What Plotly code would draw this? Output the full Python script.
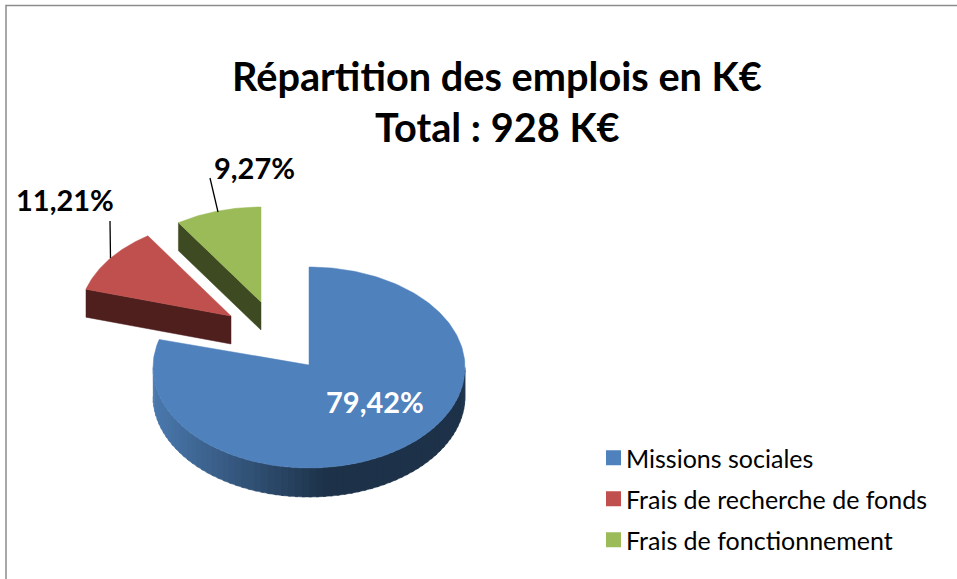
import numpy as np
import plotly.graph_objects as go

categories = ["Missions sociales", "Frais de recherche de fonds", "Frais de fonctionnement"]
shares = [79.42, 11.21, 9.27]
title_lines = ["Répartition des emplois en K€", "Total : 928 K€"]

top_colors = ["#4f81bd", "#c0504d", "#9bbb59"]
side_colors = ["#1d3249", "#4f1f1e", "#3e4a21"]
FONT = "Lato, Carlito, 'Open Sans', sans-serif"

W, H = 957, 579
# pie geometry in the picture's own axis units: apex x, apex y, radius x, radius y, centre offset, wall depth
GEOM = [
    dict(ax=309, ay=365, rx=156, ry=100.5, oy=2.5, depth=29),
    dict(ax=231, ay=316, rx=151, ry=96, oy=0, depth=28),
    dict(ax=261, ay=302, rx=150, ry=95, oy=0, depth=28),
]

fracs = np.array(shares) / np.sum(shares) * 360.0
starts = np.concatenate([[0], np.cumsum(fracs)[:-1]])
ends = np.cumsum(fracs)


def rim(g, t):
    r = np.radians(t)
    return g["ax"] + g["rx"] * np.sin(r), g["ay"] + g["oy"] - g["ry"] * np.cos(r)


def poly(xs, ys, color):
    return go.Scatter(x=list(xs), y=list(ys), mode="lines", fill="toself", fillcolor=color,
                      line=dict(color=color, width=0.5), showlegend=False, hoverinfo="skip")


def hex2rgb(h):
    return np.array([int(h[i:i + 2], 16) for i in (1, 3, 5)], float)


def mix(a, b, f):
    c = hex2rgb(a) * (1 - f) + hex2rgb(b) * f
    return "rgb(%d,%d,%d)" % tuple(c.round())


fig = go.Figure()

# frame of the chart area
fig.add_trace(go.Scatter(x=[6, 6, W], y=[H, 5.5, 5.5], mode="lines",
                         line=dict(color="#8c8c8c", width=1.5), showlegend=False, hoverinfo="skip"))

# blue: curved front wall with horizontal shading
g = GEOM[0]
N = 70
edges = np.linspace(270, 90, N + 1)
for a, b in zip(edges[:-1], edges[1:]):
    ts = np.linspace(a, b - 1.0 if b > 90 else b, 4)
    x, y = rim(g, ts)
    xm = rim(g, (a + b) / 2)[0]
    f = np.clip((xm - 155) / (325 - 155), 0, 1)
    col = mix("#4a78ad", side_colors[0], f)
    fig.add_trace(poly(np.r_[x, x[::-1]], np.r_[y, (y + g["depth"])[::-1]], col))

# blue top
t = np.linspace(starts[0], ends[0], 240)
x, y = rim(g, t)
fig.add_trace(poly(np.r_[g["ax"], x, g["ax"]], np.r_[g["ay"], y, g["ay"]], top_colors[0]))

# exploded wedges: cut face at the start angle, then the top
for i in (1, 2):
    g = GEOM[i]
    ox, oy = rim(g, starts[i])
    fig.add_trace(poly([g["ax"], ox, ox, g["ax"], g["ax"]],
                       [g["ay"], oy, oy + g["depth"], g["ay"] + g["depth"], g["ay"]], side_colors[i]))
    t = np.linspace(starts[i], ends[i], 60)
    x, y = rim(g, t)
    fig.add_trace(poly(np.r_[g["ax"], x, g["ax"]], np.r_[g["ay"], y, g["ay"]], top_colors[i]))

# leader lines
for lx, ly in (([110, 110.5], [221, 258]), ([210, 218], [178, 212])):
    fig.add_trace(go.Scatter(x=lx, y=ly, mode="lines", line=dict(color="#000000", width=1.3),
                             showlegend=False, hoverinfo="skip"))

# legend entries
for i, name in enumerate(categories):
    fig.add_trace(go.Scatter(x=[None], y=[None], mode="markers", name=name, legendgroup=name,
                             marker=dict(symbol="square", size=15, color=top_colors[i])))


def fmt(v):
    return f"{v:.2f}%".replace(".", ",")


label_pos = [(375, 401, "#ffffff"), (65, 199, "#000000"), (254, 167, "#000000")]
anns = [dict(x=px, y=py, text="<b>%s</b>" % fmt(v), showarrow=False, xref="x", yref="y",
             font=dict(family=FONT, size=29, color=c))
        for v, (px, py, c) in zip(shares, label_pos)]
anns += [dict(x=497, y=py, text="<b>%s</b>" % s, showarrow=False, xref="x", yref="y",
              font=dict(family=FONT, size=39.7, color="#000000"))
         for s, py in zip(title_lines, (75.5, 126.5))]

fig.update_layout(
    width=W, height=H, margin=dict(l=0, r=0, t=0, b=0),
    paper_bgcolor="white", plot_bgcolor="white",
    xaxis=dict(range=[0, W], visible=False, fixedrange=True),
    yaxis=dict(range=[H, 0], visible=False, fixedrange=True),
    annotations=anns,
    legend=dict(x=592 / W, y=1 - 435 / H, xanchor="left", yanchor="top", indentation=-6,
                font=dict(family=FONT, size=25, color="#000000"),
                bgcolor="rgba(0,0,0,0)", itemwidth=30, tracegroupgap=5.5,
                itemclick=False, itemdoubleclick=False),
)
page_js = """
document.body.style.margin='0';
var s=document.createElement('style');
s.textContent='text{font-variant-ligatures:none}';
document.head.appendChild(s);
function nudgeSwatches(){
  document.querySelectorAll('.legend .legendpoints').forEach(function(el){
    el.setAttribute('transform','translate(7.5,0)');
  });
}
nudgeSwatches();
setTimeout(nudgeSwatches,50);
var gd=document.querySelector('.plotly-graph-div');
if(gd&&gd.on){gd.on('plotly_afterplot',nudgeSwatches);}
"""
fig.write_html("out.html", config=dict(displayModeBar=False), post_script=page_js)
